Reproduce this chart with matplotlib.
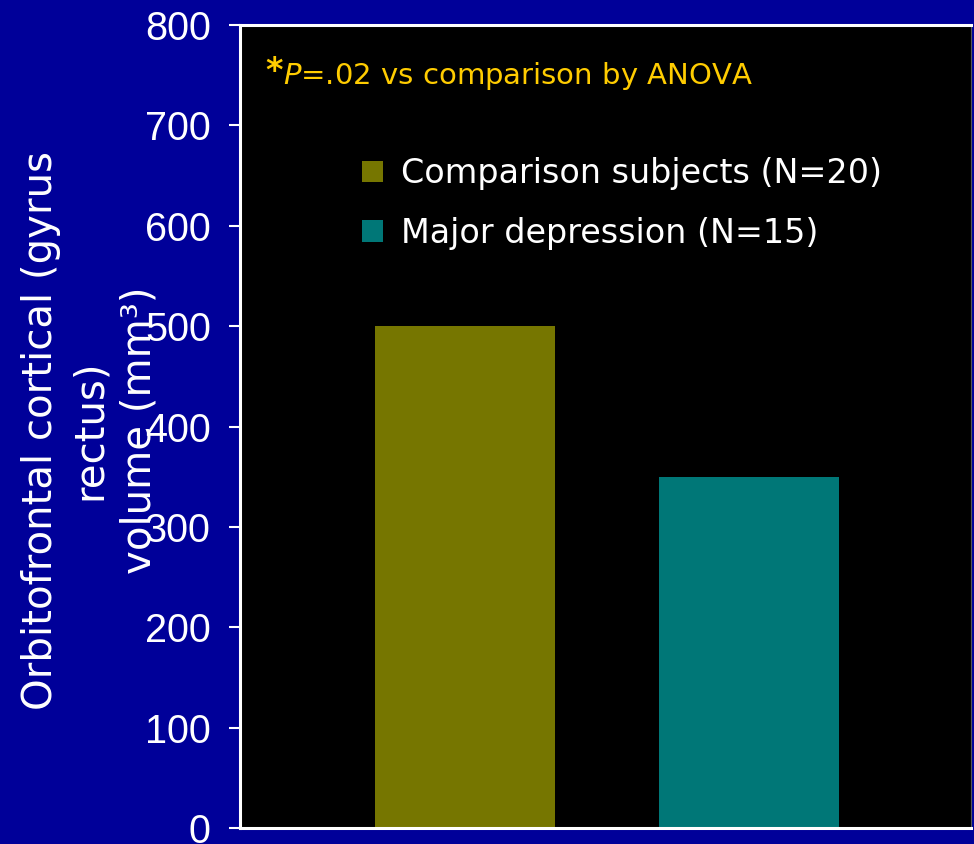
import matplotlib
matplotlib.use("Agg")
import matplotlib.pyplot as plt

# Data
groups = ["Comparison subjects (N=20)", "Major depression (N=15)"]
volumes = [500, 350]
bar_colors = ["#767600", "#007777"]
y_ticks = [0, 100, 200, 300, 400, 500, 600, 700, 800]

navy = "#000099"
fig = plt.figure(figsize=(9.74, 8.44), dpi=100, facecolor=navy)
ax = fig.add_axes([240 / 974, 16 / 844, 731 / 974, 803 / 844])
ax.set_facecolor("black")

x = list(range(len(volumes)))
bars = ax.bar(x, volumes, width=0.634, color=bar_colors, label=groups, zorder=2)

ax.set_xlim(-0.792, 1.782)
ax.set_ylim(0, 800)
ax.set_yticks(y_ticks)
ax.set_yticklabels([str(t) for t in y_ticks], family="Liberation Sans",
                   fontsize=28.5, color="white")
ax.set_xticks([])
ax.tick_params(axis="y", direction="out", length=8, width=1.5, color="white", pad=13)

for side in ("left", "top", "bottom"):
    ax.spines[side].set_color("white")
    ax.spines[side].set_linewidth(2.2)
ax.spines["right"].set_color("#555555")
ax.spines["right"].set_linewidth(0.8)

# Axis title (rotated, three lines)
fig.text(90 / 974, (844 - 430) / 844,
         "Orbitofrontal cortical (gyrus\nrectus)\nvolume (mm³)",
         rotation=90, ha="center", va="center", multialignment="center",
         fontsize=29, color="white", family="DejaVu Sans", linespacing=1.3)

# Significance note
fig.text(265 / 974, (844 - 72) / 844, "*", fontsize=24, color="#FFCC00",
         ha="left", va="center", family="DejaVu Sans", weight="bold")
fig.text(283 / 974, (844 - 76) / 844, r"$\it{P}$=.02 vs comparison by ANOVA",
         fontsize=21, color="#FFCC00", ha="left", va="center", family="DejaVu Sans")

leg = ax.legend(handles=bars.patches, labels=groups, loc="upper left",
                bbox_to_anchor=(339 / 974, (844 - 134) / 844),
                bbox_transform=fig.transFigure, frameon=False,
                labelcolor="white", handlelength=0.62,
                handleheight=0.62, handletextpad=0.55, labelspacing=0.8,
                borderpad=0.2, prop={"family": "DejaVu Sans", "size": 24})

fig.savefig("out.png", dpi=100, facecolor=navy)
